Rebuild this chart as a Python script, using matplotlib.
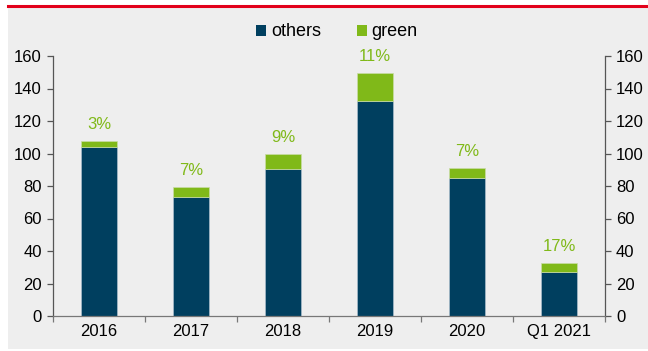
import numpy as np
import matplotlib.pyplot as plt
from matplotlib.patches import Rectangle, Patch
from matplotlib.lines import Line2D

plt.rcParams['font.family'] = ['Liberation Sans', 'DejaVu Sans']

# data
categories = ['2016', '2017', '2018', '2019', '2020', 'Q1 2021']
others = [104, 73.5, 90.5, 132.5, 85, 27]
green = [3.5, 6, 9, 17, 6, 5.8]
share_labels = ['3%', '7%', '9%', '11%', '7%', '17%']

navy = '#003f5f'
lime = '#80b919'
bg = '#eeeeee'

fig = plt.figure(figsize=(6.48, 3.51), dpi=100)
fig.patch.set_facecolor('white')
fig.patches.append(Rectangle((8 / 648, 0.006), 1, 0.975, transform=fig.transFigure,
                             facecolor=bg, edgecolor='none', zorder=-10))
fig.lines.append(Line2D([8 / 648, 1], [1 - 6 / 351, 1 - 6 / 351], transform=fig.transFigure,
                        color='#e2001a', lw=2.2))

ax = fig.add_axes([53 / 648, 1 - 316 / 351, 552 / 648, 260 / 351])
ax.set_facecolor('none')

x = np.arange(len(categories))
w = 0.4
ax.bar(x, others, w, color=navy, edgecolor='#a9bccb', linewidth=0.5, label='others')
ax.bar(x, green, w, bottom=others, color=lime, edgecolor='#c9dca6', linewidth=0.5, label='green')

for xi, o, g, s in zip(x, others, green, share_labels):
    ax.annotate(s, (xi, o + g), xytext=(0, 6.5), textcoords='offset points',
                ha='center', va='bottom', color=lime, fontsize=12)

ax.set_xlim(-0.5, len(categories) - 0.5)
ax.set_ylim(0, 160)
ax.set_yticks(range(0, 161, 20))
ax.set_xticks(x)
ax.set_xticklabels(categories)
ax.set_xticks(np.arange(-0.5, len(categories), 1), minor=True)

ax.spines['top'].set_visible(False)
for side in ['left', 'right', 'bottom']:
    ax.spines[side].set_color('#555555')
    ax.spines[side].set_linewidth(0.9)
ax.spines['bottom'].set_color('#777777')

ax.tick_params(axis='y', which='both', direction='out', length=4, width=0.9, color='#555555',
               labelsize=12, pad=4, left=True, right=True, labelleft=True, labelright=True)
ax.tick_params(axis='x', which='major', length=0, labelsize=12, pad=6)
ax.tick_params(axis='x', which='minor', direction='out', length=4, width=0.9, color='#777777')

handles = [Patch(facecolor=navy, label='others'), Patch(facecolor=lime, label='green')]
fig.legend(handles=handles, loc='center', bbox_to_anchor=(337 / 648, 1 - 32 / 351), ncol=2,
           frameon=False, fontsize=13, handlelength=0.55, handleheight=0.55,
           handletextpad=0.25, columnspacing=2.0, borderpad=0)

fig.savefig('out.png', dpi=100)
